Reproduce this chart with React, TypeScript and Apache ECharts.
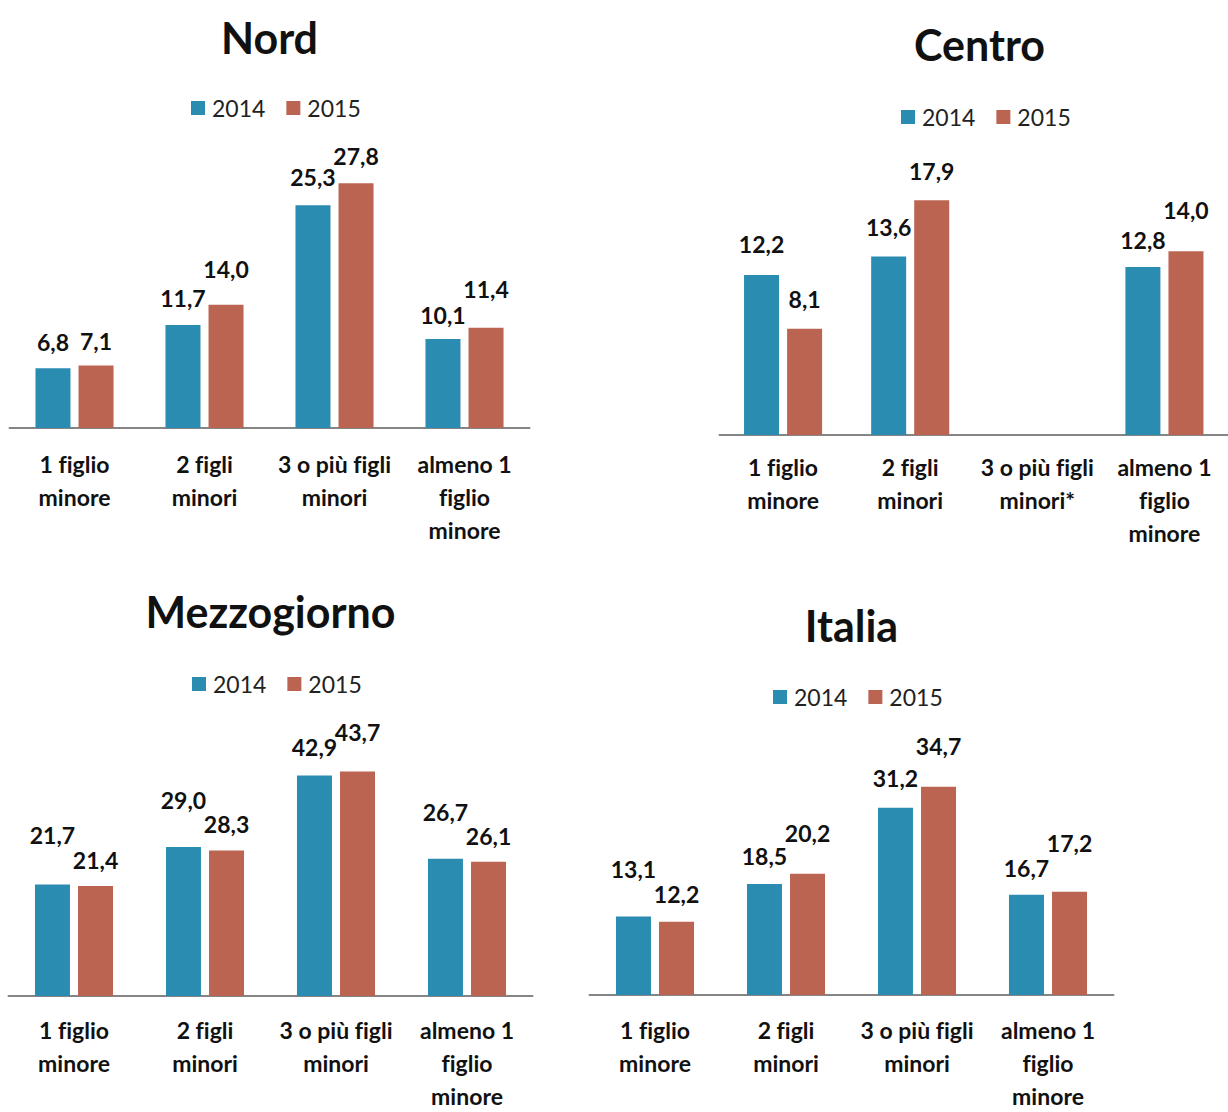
import React, { useEffect, useRef } from "react";
import * as echarts from "echarts";

// Categories (household type by number of minor children)
const categories = [
  "1 figlio\nminore",
  "2 figli\nminori",
  "3 o più figli\nminori",
  "almeno 1\nfiglio\nminore",
];
const categoriesCentro = [
  "1 figlio\nminore",
  "2 figli\nminori",
  "3 o più figli\nminori*",
  "almeno 1\nfiglio\nminore",
];
const years = ["2014", "2015"];

// Values per area (null = not available)
const nord2014 = [6.8, 11.7, 25.3, 10.1];
const nord2015 = [7.1, 14.0, 27.8, 11.4];
const centro2014 = [12.2, 13.6, null, 12.8];
const centro2015 = [8.1, 17.9, null, 14.0];
const mezzogiorno2014 = [21.7, 29.0, 42.9, 26.7];
const mezzogiorno2015 = [21.4, 28.3, 43.7, 26.1];
const italia2014 = [13.1, 18.5, 31.2, 16.7];
const italia2015 = [12.2, 20.2, 34.7, 17.2];

// Space between each bar top and its value label (labels are staggered)
const nordLift2014 = [18, 19, 20, 16];
const nordLift2015 = [16, 27, 19, 30];
const centroLift2014 = [22, 21, 0, 19];
const centroLift2015 = [21, 21, 0, 33];
const mezzogiornoLift2014 = [41, 38, 20, 38];
const mezzogiornoLift2015 = [18, 18, 31, 17];
const italiaLift2014 = [39, 20, 21, 18];
const italiaLift2015 = [19, 32, 32, 40];

const BLUE = "#2b8cb2";
const RED = "#bb6452";
const FONT = "Lato, 'Open Sans', sans-serif";

type Panel = {
  title: string;
  cats: string[];
  a: (number | null)[];
  b: (number | null)[];
  liftA: number[];
  liftB: number[];
  left: number;
  width: number;
  axisY: number;
  max: number;
  pxPerUnit: number;
  titleY: number;
  legendY: number;
  labelMargin: number;
};

const panels: Panel[] = [
  {
    title: "Nord", cats: categories, a: nord2014, b: nord2015,
    liftA: nordLift2014, liftB: nordLift2015,
    left: 9.5, width: 520, axisY: 428, max: 30, pxPerUnit: 8.8,
    titleY: 37, legendY: 108, labelMargin: 19,
  },
  {
    title: "Centro", cats: categoriesCentro, a: centro2014, b: centro2015,
    liftA: centroLift2014, liftB: centroLift2015,
    left: 719.5, width: 520, axisY: 435, max: 20, pxPerUnit: 13.12,
    titleY: 44, legendY: 117, labelMargin: 15,
  },
  {
    title: "Mezzogiorno", cats: categories, a: mezzogiorno2014, b: mezzogiorno2015,
    liftA: mezzogiornoLift2014, liftB: mezzogiornoLift2015,
    left: 8.5, width: 524, axisY: 1000, max: 50, pxPerUnit: 5.22,
    titleY: 611, legendY: 684, labelMargin: 17,
  },
  {
    title: "Italia", cats: categories, a: italia2014, b: italia2015,
    liftA: italiaLift2014, liftB: italiaLift2015,
    left: 589.5, width: 524, axisY: 1003, max: 40, pxPerUnit: 6.2,
    titleY: 625, legendY: 697, labelMargin: 18,
  },
];

const fmt = (v: number) => v.toFixed(1).replace(".", ",");

function buildOption() {
  const grid: any[] = [];
  const xAxis: any[] = [];
  const yAxis: any[] = [];
  const series: any[] = [];
  const title: any[] = [];
  const legend: any[] = [];

  panels.forEach((p, i) => {
    const height = p.max * p.pxPerUnit;
    const cx = p.left + p.width / 2;
    grid.push({ left: p.left, top: p.axisY - height, width: p.width, height });
    xAxis.push({
      type: "category",
      gridIndex: i,
      data: p.cats,
      axisTick: { show: false },
      axisLine: { lineStyle: { color: "#858585", width: 2 } },
      axisLabel: {
        interval: 0,
        margin: p.labelMargin,
        color: "#111",
        fontFamily: FONT,
        fontWeight: "bold",
        fontSize: 23,
        lineHeight: 33,
      },
    });
    yAxis.push({
      type: "value",
      gridIndex: i,
      min: 0,
      max: p.max,
      show: false,
      splitLine: { show: false },
    });
    title.push({
      text: p.title,
      left: cx,
      top: p.titleY,
      textAlign: "center",
      textVerticalAlign: "middle",
      padding: 0,
      textStyle: { fontFamily: FONT, fontWeight: "bold", fontSize: 43, color: "#111" },
    });
    legend.push({
      data: years,
      left: cx - 78.5,
      top: p.legendY - 12,
      padding: 0,
      icon: "rect",
      itemWidth: 14,
      itemHeight: 14,
      itemGap: 21,
      textStyle: { fontFamily: FONT, fontSize: 23, color: "#222", lineHeight: 24, padding: [0, 0, 0, 2] },
    });

    const items = (vals: (number | null)[], lifts: number[]) =>
      vals.map((v, k) =>
        v == null ? "-" : { value: v, label: { distance: lifts[k] - 3 } }
      );

    [
      { name: years[0], vals: p.a, lifts: p.liftA, color: BLUE },
      { name: years[1], vals: p.b, lifts: p.liftB, color: RED },
    ].forEach((s) => {
      series.push({
        type: "bar",
        name: s.name,
        xAxisIndex: i,
        yAxisIndex: i,
        barWidth: 35,
        barGap: "23%",
        itemStyle: { color: s.color },
        data: items(s.vals, s.lifts),
        label: {
          show: true,
          position: "top",
          color: "#111",
          fontFamily: FONT,
          fontWeight: "bold",
          fontSize: 23,
          formatter: (prm: any) => fmt(prm.value),
        },
      });
    });
  });

  return {
    animation: false,
    backgroundColor: "#ffffff",
    title,
    legend,
    grid,
    xAxis,
    yAxis,
    series,
  };
}

export default function App() {
  const ref = useRef<HTMLDivElement>(null);
  useEffect(() => {
    if (!ref.current) return;
    const chart = echarts.init(ref.current, undefined, { renderer: "svg" });
    chart.setOption(buildOption() as any);
    return () => chart.dispose();
  }, []);
  return (
    <>
      {/* keep "fi" as two separate glyphs */}
      <style>{`.panels svg text { font-variant-ligatures: none !important; font-feature-settings: "liga" 0, "clig" 0 !important; }`}</style>
      <div
        ref={ref}
        className="panels"
        style={{ position: "absolute", left: 0, top: 0, width: 1228, height: 1112, background: "#fff" }}
      />
    </>
  );
}
